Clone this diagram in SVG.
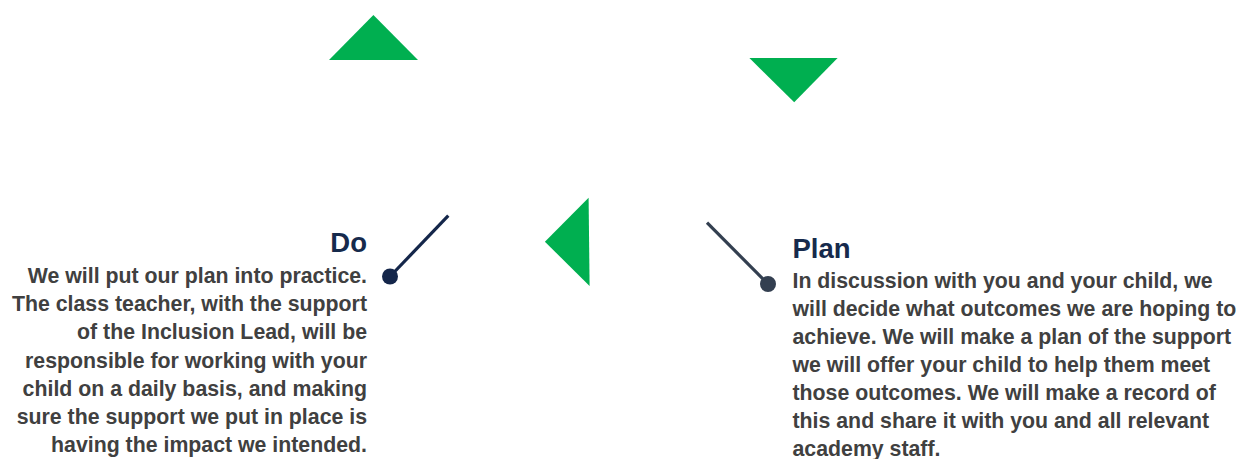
<svg xmlns="http://www.w3.org/2000/svg" width="1236" height="459" viewBox="0 0 1236 459">
<style>
.tri{fill:#00af50}
.head{font-family:"Liberation Sans",Arial,sans-serif;font-weight:bold;font-size:27.5px;fill:#162a4c}
.body{font-family:"Liberation Sans",Arial,sans-serif;font-weight:bold;font-size:21.3px;fill:#404040}
.r{text-anchor:end}
</style>
<rect width="1236" height="459" fill="#ffffff"/>
<g id="arrows">
<polygon class="tri" points="373.4,15 418,60 329,60"/>
<polygon class="tri" points="749.4,58 837.6,58 794.2,102.3"/>
<polygon class="tri" points="544.9,241.7 588.6,197.7 589.6,286"/>
</g>
<g id="connectors">
<line x1="448.3" y1="215.7" x2="390" y2="276.5" stroke="#14264a" stroke-width="3.2"/>
<circle cx="390" cy="276.5" r="8" fill="#14264a"/>
<line x1="707" y1="222.7" x2="768" y2="284" stroke="#333f50" stroke-width="3.2"/>
<circle cx="768" cy="284" r="8" fill="#333f50"/>
</g>
<g id="do">
<text class="head r" x="367" y="251.7">Do</text>
<text class="body r" x="367" y="283.2">We will put our plan into practice.</text>
<text class="body r" x="367" y="311.3">The class teacher, with the support</text>
<text class="body r" x="367" y="339.4">of the Inclusion Lead, will be</text>
<text class="body r" x="367" y="367.5">responsible for working with your</text>
<text class="body r" x="367" y="395.6">child on a daily basis, and making</text>
<text class="body r" x="367" y="423.7">sure the support we put in place is</text>
<text class="body r" x="367" y="451.8">having the impact we intended.</text>
</g>
<g id="plan">
<text class="head" x="792.5" y="258.3">Plan</text>
<text class="body" x="792.5" y="287.5">In discussion with you and your child, we</text>
<text class="body" x="792.5" y="315.6">will decide what outcomes we are hoping to</text>
<text class="body" x="792.5" y="343.7">achieve. We will make a plan of the support</text>
<text class="body" x="792.5" y="371.8">we will offer your child to help them meet</text>
<text class="body" x="792.5" y="399.9">those outcomes. We will make a record of</text>
<text class="body" x="792.5" y="428">this and share it with you and all relevant</text>
<text class="body" x="792.5" y="456.3">academy staff.</text>
</g>
</svg>
